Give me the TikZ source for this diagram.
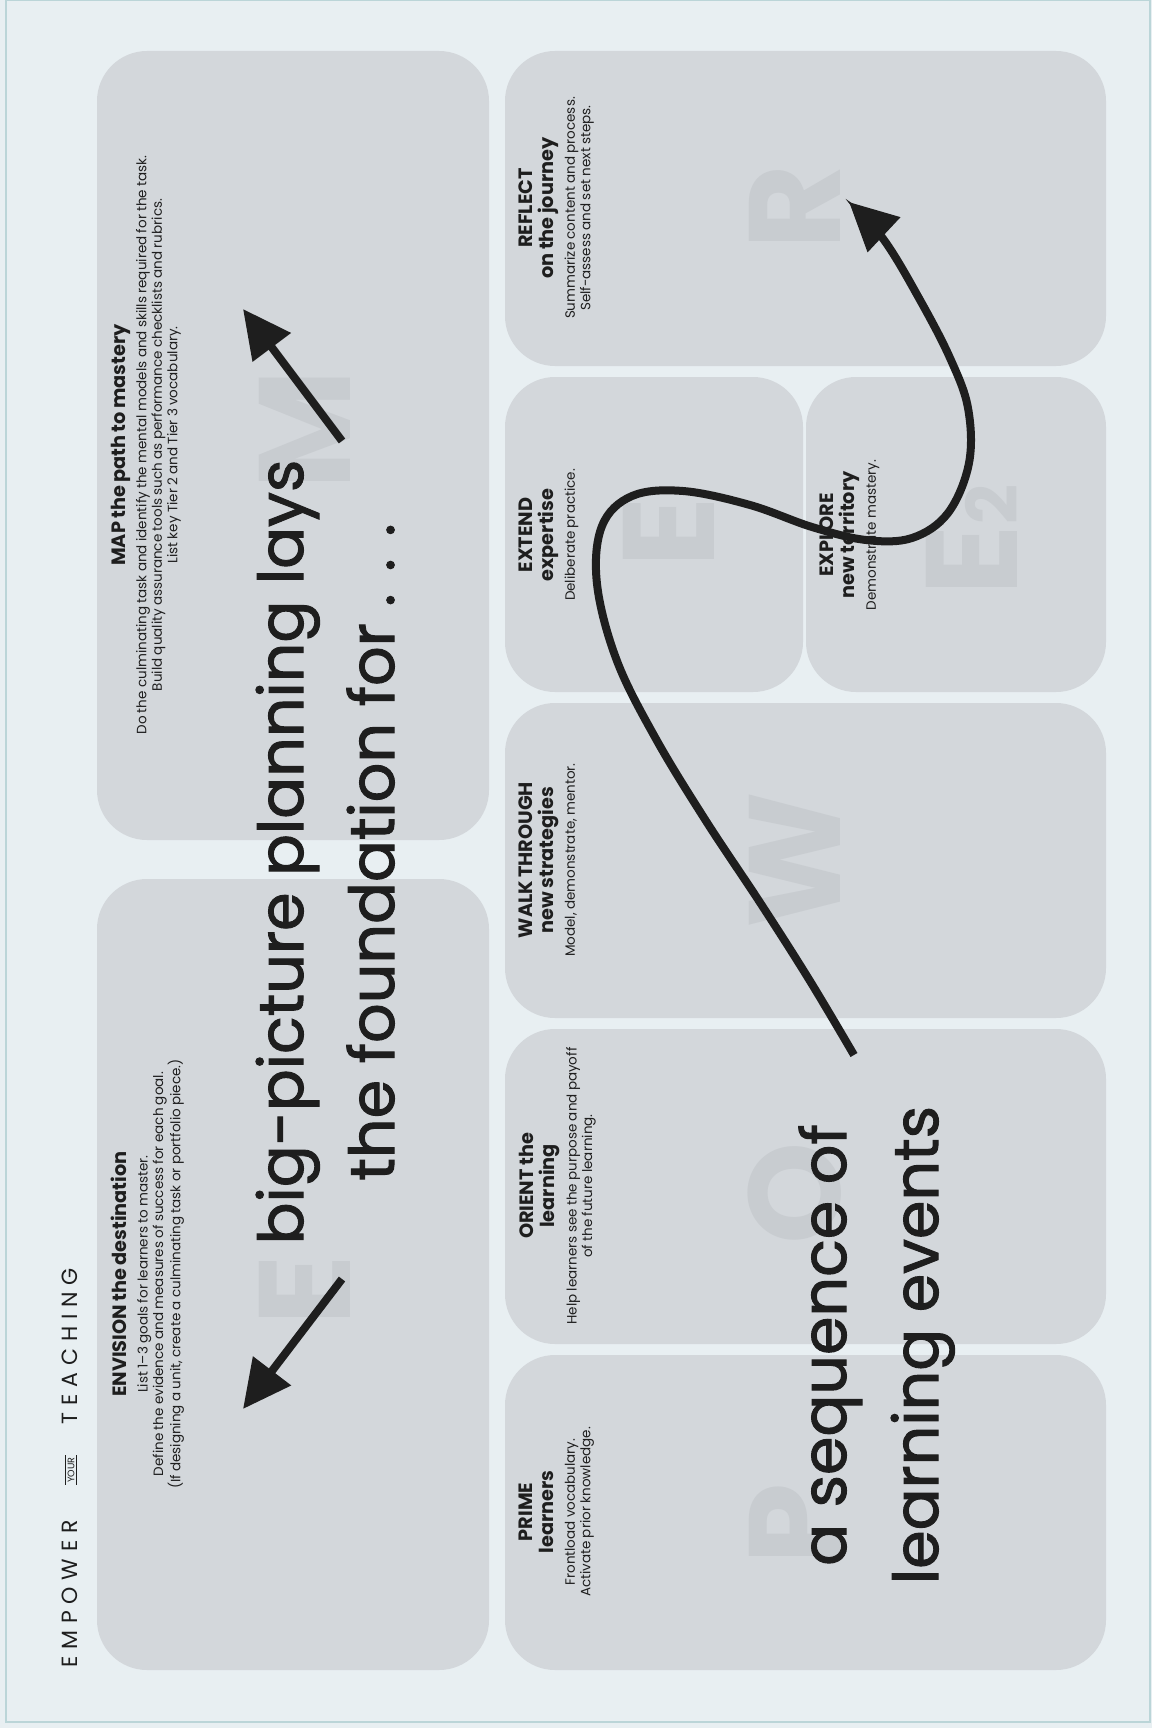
\documentclass[tikz,border=0pt]{standalone}
\usepackage{fontspec}
\setmainfont{Poppins}
\newfontfamily\trackfont[LetterSpace=31]{Poppins}
\newfontfamily\heavyfont[FakeBold=1.6]{Poppins}
\usetikzlibrary{arrows.meta}
\definecolor{bgc}{HTML}{E8EFF2}
\definecolor{cardc}{HTML}{D3D7DB}
\definecolor{ghostc}{HTML}{C8CCD0}
\definecolor{inkc}{HTML}{1E1E1E}
\definecolor{framec}{HTML}{BBD5D8}
\newcommand\hdf{\fontsize{19.3}{21}\selectfont\bfseries}
\newcommand\bdf{\fontsize{13.5}{15.5}\selectfont}
\newcommand\bigf{\heavyfont\fontsize{62}{80}\selectfont}
\newcommand\ghf{\fontsize{130}{130}\selectfont\bfseries}
\tikzset{
  cardbox/.style={fill=cardc, draw=none, rounded corners=50pt, inner sep=0pt, outer sep=0pt, anchor=north west},
  infotext/.style={rotate=90, anchor=north, align=center, inner sep=0pt, text=inkc, text width=#1},
  ghosttext/.style={rotate=90, text=ghostc, font=\ghf, inner sep=0pt},
  bigtext/.style={rotate=90, text=inkc, font=\bigf, inner sep=0pt, anchor=base},
  bigarrow/.style={line width=8pt, draw=inkc, -{Triangle[length=48pt,width=46pt]}},
  brand/.style={rotate=90, text=inkc, font=\trackfont\fontsize{22}{22}\selectfont, inner sep=0pt},
}
\begin{document}
\begin{tikzpicture}[x=1pt,y=-1pt]
\useasboundingbox (0,0) rectangle (1152,1728);
\fill[bgc] (0,0) rectangle (1152,1728);
\draw[framec, line width=1.5pt] (6,0) rectangle (1150,1722);

% cards
\node[cardbox, minimum width=392pt, minimum height=791pt] (envbox) at (97,879) {};
\node[cardbox, minimum width=392pt, minimum height=789pt] (mapbox) at (97,51) {};
\node[cardbox, minimum width=601pt, minimum height=315pt] (primebox) at (505,1355) {};
\node[cardbox, minimum width=601pt, minimum height=315pt] (orientbox) at (505,1029) {};
\node[cardbox, minimum width=601pt, minimum height=315pt] (walkbox) at (505,703) {};
\node[cardbox, minimum width=298pt, minimum height=315pt] (extendbox) at (505,377) {};
\node[cardbox, minimum width=300pt, minimum height=315pt] (explorebox) at (806,377) {};
\node[cardbox, minimum width=601pt, minimum height=315pt] (reflectbox) at (505,51) {};

% ghost letters
\node[ghosttext] (gE) at (305,1290) {E};
\node[ghosttext] (gM) at (305,430) {M};
\node[ghosttext] (gP) at (795,1524) {P};
\node[ghosttext] (gO) at (795,1193) {O};
\node[ghosttext] (gW) at (795,860) {W};
\node[ghosttext] (gE1) at (669,532) {E};
\node[ghosttext] (gE2) at (972,540) {E\raisebox{0pt}{\fontsize{70}{70}\selectfont 2}};
\node[ghosttext] (gR) at (795,207) {R};

% brand
\node[brand, anchor=base west] (emp) at (77,1668) {EMPOWER};
\node[rotate=90, inner sep=2pt, text=inkc, font=\fontsize{9.5}{9.5}\selectfont] (your) at (71,1470) {YOUR};
\draw[inkc, line width=0.9pt] (your.north west) -- (your.north east);
\draw[inkc, line width=0.9pt] (your.south west) -- (your.south east);
\node[brand, anchor=base east] (teach) at (77,1268) {TEACHING};

% card texts
\node[infotext=700pt] (envtxt) at (111,1274) {{\hdf ENVISION the destination\par}\vspace{5.5pt}{\bdf List 1--3 goals for learners to master.\\Define the evidence and measures of success for each goal.\\(If designing a unit, create a culminating task or portfolio piece.)\par}};
\node[infotext=700pt] (maptxt) at (111,445) {{\hdf MAP the path to mastery\par}\vspace{5.5pt}{\bdf Do the culminating task and identify the mental models and skills required for the task.\\Build quality assurance tools such as performance checklists and rubrics.\\List key Tier 2 and Tier 3 vocabulary.\par}};
\node[infotext=290pt] (primetxt) at (519,1512) {{\hdf PRIME\\learners\par}\vspace{5.5pt}{\bdf Frontload vocabulary.\\Activate prior knowledge.\par}};
\node[infotext=290pt] (orienttxt) at (519,1186) {{\hdf ORIENT the\\learning\par}\vspace{5.5pt}{\bdf Help learners see the purpose and payoff\\of the future learning.\par}};
\node[infotext=290pt] (walktxt) at (519,860) {{\hdf WALK THROUGH\\new strategies\par}\vspace{5.5pt}{\bdf Model, demonstrate, mentor.\par}};
\node[infotext=290pt] (extendtxt) at (519,535) {{\hdf EXTEND\\expertise\par}\vspace{5.5pt}{\bdf Deliberate practice.\par}};
\node[infotext=290pt] (exploretxt) at (820,535) {{\hdf EXPLORE\\new territory\par}\vspace{5.5pt}{\bdf Demonstrate mastery.\par}};
\node[infotext=290pt] (reflecttxt) at (519,208) {{\hdf REFLECT\\on the journey\par}\vspace{5.5pt}{\bdf Summarize content and process.\\Self-assess and set next steps.\par}};

% big statements
\node[bigtext] (big1) at (303,852) {big-picture planning lays};
\node[bigtext] (big2) at (394,852) {the foundation for . . .};
\node[bigtext] (seq1) at (846,1345) {a sequence of};
\node[bigtext] (seq2) at (938,1345) {learning events};

% arrows
\coordinate (a1s) at (342,441);
\coordinate (a1e) at (243,309);
\draw[bigarrow] (a1s) -- (a1e);
\coordinate (a2s) at (342,1279);
\coordinate (a2e) at (243,1409);
\draw[bigarrow] (a2s) -- (a2e);

\coordinate (cs) at (854,1055);
\coordinate (ce) at (849,202);
\draw[bigarrow] plot[smooth, tension=0.6] coordinates {(cs) (810,981) (761,904) (706,821) (656,739) (617,661) (597,584) (602,526) (632,496) (683,491) (750,505) (812,527) (866,540) (912,538) (948,513) (969,463) (968,408) (950,358) (920,300) (884,240) (ce)};
\end{tikzpicture}
\end{document}
